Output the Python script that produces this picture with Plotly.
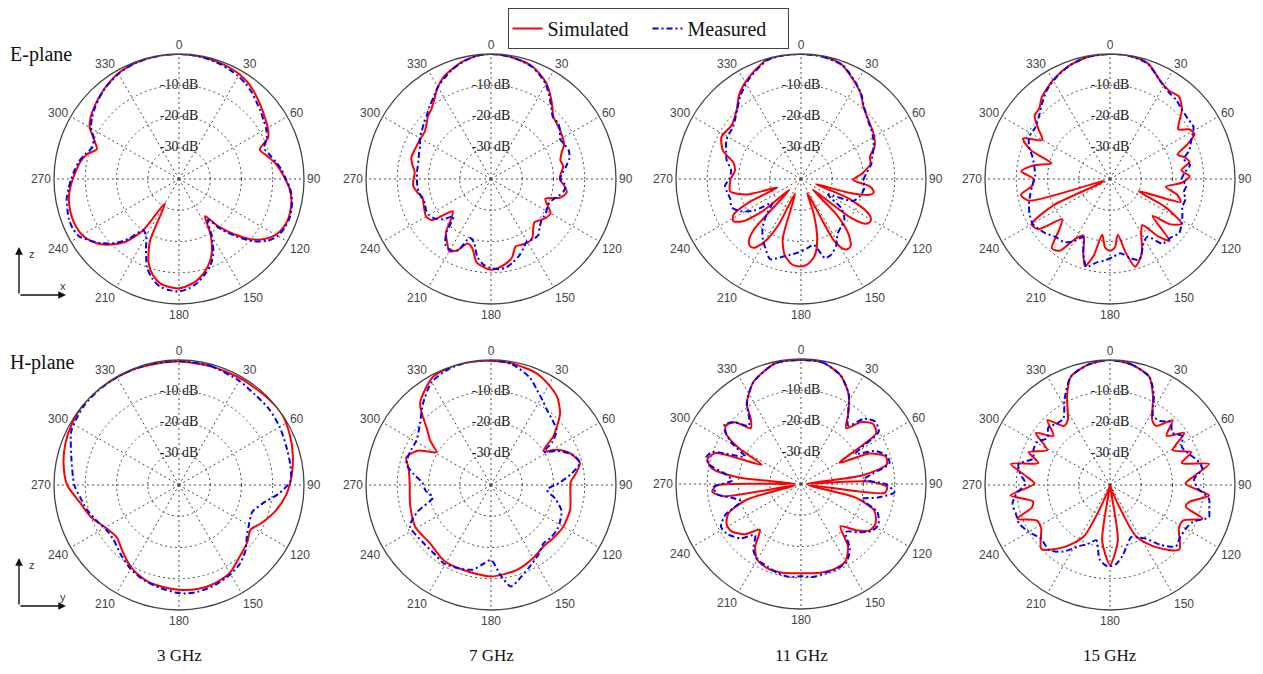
import plotly.graph_objects as go

# ---------------- data (angle in degrees, gain in dB) ----------------
ANG_TICKS = [0, 30, 60, 90, 120, 150, 180, 210, 240, 270, 300, 330]
ANG_LABELS = ["0", "30", "60", "90", "120", "150", "180", "210", "240", "270", "300", "330"]
DB_TICKS = [-10, -20, -30]
DB_LABELS = ["-10 dB", "-20 dB", "-30 dB"]
FREQS = ["3 GHz", "7 GHz", "11 GHz", "15 GHz"]
PLANES = ["E-plane", "H-plane"]

# E-plane 3 GHz (5 deg steps)
E3_theta = list(range(0, 360, 5)) + [360]
E3_sim = [0, -0.1, -0.2, -0.4, -0.6, -0.9, -1.3, -2, -3, -4.2, -5.3, -6.3, -7.2, -8.5, -12.5, -11, -9, -7.5,
          -6, -4.5, -3.5, -3, -2.8, -3.2, -4.2, -6.5, -10, -15, -20, -25.5, -20, -15, -11.5, -9, -7, -5.8,
          -5, -5.3, -6, -8, -11.5, -18, -31, -20, -14, -10.5, -7.5, -5.5, -4.2, -3.7, -3.6, -3.8, -4.2, -5,
          -6, -7, -8, -9.5, -12, -10, -7, -5.5, -4.5, -3.5, -2.6, -1.8, -1, -0.6, -0.3, -0.1, 0, 0, 0]
E3_meas = [0, -0.1, -0.3, -0.6, -1, -1.5, -2, -2.8, -3.8, -5, -6, -7, -7.8, -9, -11, -10, -8.5, -7,
           -5.8, -4.3, -3.3, -2.7, -2.5, -2.8, -3.5, -5.5, -9, -14, -19, -24, -19, -14, -10.5, -8.3, -6.2, -4.8,
           -4, -4.3, -5, -7, -10, -15, -19, -20, -15, -11, -8, -5.5, -3.2, -2.5, -2.5, -3, -3.5, -4.5,
           -5.5, -6.5, -7.5, -9, -10.5, -10, -7.5, -6, -4.8, -3.7, -2.7, -1.9, -1.2, -0.7, -0.4, -0.2, -0.1, 0, 0]

# E-plane 7 GHz (5 deg steps)
E7_theta = list(range(0, 360, 5)) + [360]
E7_sim = [0, -0.2, -0.5, -1, -1.6, -3, -4.6, -7, -9.5, -11.8, -12.5, -13, -13.5, -14.2, -16, -17, -16.5, -17.5,
          -18, -16.5, -15.4, -17, -21.5, -20, -18, -18.5, -19.5, -20.4, -19, -17, -16.5, -16.8, -17, -14, -12.5, -11.5,
          -11, -11.8, -13, -17, -18, -15, -13.3, -15.5, -17.5, -22, -24, -17, -16, -16.5, -17, -17.3, -16, -15,
          -15.2, -15.5, -14.5, -13.6, -13.8, -14, -14, -14, -13, -11.5, -10.5, -8.5, -6, -4, -2.8, -1.6, -0.8, -0.2, 0]
E7_meas = [0, -0.2, -0.5, -1, -1.8, -3.2, -5, -7.5, -10, -12, -12, -13, -14.5, -14, -13.5, -14, -15.5, -17,
           -17.8, -16, -16.5, -18, -19.5, -20, -19.5, -19.3, -19, -18, -16.5, -16.5, -17, -15.5, -13.8, -12.5, -11.3, -11,
           -11.5, -12.5, -14.7, -19, -20, -14.7, -13.8, -14.5, -18, -23, -20, -18, -17, -17, -17.5, -17, -16.5, -16.3,
           -16.3, -16.2, -16.2, -16, -15.5, -15, -13.7, -13, -12, -11, -9.5, -8, -6, -4.5, -3, -1.8, -0.8, -0.2, 0]

# E-plane 11 GHz
E11_sim_theta = [0, 9, 19, 28, 35, 41, 49, 58, 66, 72, 78, 85, 91, 96, 99, 101, 103, 106, 109, 112, 116, 119,
                 122, 125, 128, 132, 135, 139, 143, 146, 149, 152, 156, 160, 165, 170, 176, 181, 186, 192, 197,
                 202, 206, 210, 214, 217, 220, 223, 227, 230, 234, 238, 242, 246, 250, 254, 260, 270, 277, 284,
                 290, 298, 308, 317, 324, 333, 344, 352, 360]
E11_sim = [0, 0, -1, -4.2, -6.7, -9.5, -11.4, -12.6, -14.2, -16.8, -17.3, -20.5, -23.3, -18, -16.6, -16.4, -17.5,
           -24, -35, -24, -17, -14.5, -14, -15, -20, -35, -24, -17, -13.5, -13, -14, -18, -35, -28, -20, -15,
           -12.5, -12, -12.5, -15, -20, -35, -24, -17, -13.5, -13, -14, -18, -35, -24, -17, -14.5, -15.5, -22,
           -32, -22, -17, -17.5, -18.7, -17.6, -13.4, -11.2, -11.9, -9.8, -6.4, -3.4, -0.3, 0, 0]
E11_meas_theta = [0, 10, 20, 28, 35, 41, 49, 58, 66, 72, 78, 85, 91, 98, 106, 113, 120, 126, 133, 140, 146, 152,
                  158, 163, 169, 175, 182, 188, 195, 201, 207, 212, 218, 224, 230, 236, 242, 248, 254, 260, 265,
                  270, 277, 284, 290, 298, 308, 317, 324, 333, 344, 352, 360]
E11_meas = [0, -0.3, -1.2, -4, -6.5, -9.3, -11.5, -13, -14.5, -16, -17, -19, -20, -19.5, -20.3, -22, -30, -24,
            -21, -20, -19, -16, -14, -13.5, -18.5, -17.7, -16.5, -15.5, -14, -12.5, -15, -17, -20, -24, -28, -22,
            -18, -16, -16.5, -16, -15.6, -17, -17.5, -15.5, -14.5, -13, -12.5, -10, -7, -3.8, -0.5, 0, 0]

# E-plane 15 GHz
E15_sim_theta = [0, 8, 18, 28, 34, 40, 46, 50, 54, 58, 62, 66, 70, 74, 78, 83, 88, 93, 98, 103, 108, 113, 117,
                 122, 127, 131, 136, 140, 145, 150, 157, 164, 168, 172, 176, 180, 184, 188, 192, 196, 200, 205,
                 210, 215, 220, 225, 230, 235, 240, 245, 250, 255, 260, 265, 270, 275, 280, 285, 290, 295, 300,
                 305, 310, 315, 320, 330, 340, 350, 360]
E15_sim = [0, 0, -1, -5, -6, -5.6, -8, -11, -13, -10, -9.4, -13, -17, -15, -14, -17, -14.5, -17, -22, -18, -16.2,
           -30, -20, -12.9, -16, -22, -12.5, -16, -22, -20, -14, -10.8, -16, -22, -18, -17, -18, -22, -15, -10.9,
           -15, -20, -18, -12, -11, -17, -20, -12, -11, -20, -38, -13.2, -11, -15, -15.5, -11.5, -15, -20.6, -13,
           -9.3, -15, -12, -8.5, -8, -6, -3.5, -1.5, -0.3, 0]
E15_meas_theta = [0, 8, 18, 28, 34, 40, 46, 52, 58, 64, 70, 75, 80, 85, 90, 95, 100, 105, 111, 117, 122, 128,
                  134, 141, 147, 152, 160, 166, 172, 178, 183, 189, 195, 200, 205, 210, 216, 223, 230, 236, 240,
                  247, 253, 259, 265, 272, 279, 286, 292, 298, 304, 311, 318, 325, 333, 342, 350, 360]
E15_meas = [0, 0, -1.2, -5, -6.5, -7, -8, -8.5, -8.5, -11, -13, -15.5, -14, -16, -17, -15.5, -16, -15, -15.2,
            -14, -13, -11.9, -13, -13.4, -18, -17, -12.5, -14, -16, -15, -14, -13, -10.9, -15, -19.5, -17, -15,
            -14.6, -13, -12, -11.4, -12, -12.9, -14, -15, -16, -15.5, -14.2, -12, -10.8, -11, -9.8, -7.5, -5, -3,
            -1.2, -0.3, 0]

# H-plane 3 GHz
H3_sim_theta = [0, 15, 30, 45, 55, 65, 75, 85, 95, 105, 115, 122, 130, 140, 150, 160, 170, 180, 190, 200, 210,
                220, 230, 240, 250, 260, 270, 280, 290, 300, 310, 320, 330, 340, 350, 360]
H3_sim = [-0.5, -0.7, -0.6, -0.3, 0, -1, -2.3, -3.8, -5.5, -8, -11, -13, -11.5, -9.9, -7.5, -6.5, -6.2, -6.5, -7,
          -7.8, -9.5, -12, -14, -12.8, -10, -7.8, -4.2, -2.5, -1.3, -0.5, 0, 0, -0.2, -0.3, -0.5, -0.5]
H3_meas_theta = [0, 15, 30, 40, 50, 60, 70, 80, 88, 95, 102, 110, 118, 127, 135, 142, 150, 160, 170, 176, 182,
                 190, 200, 210, 220, 230, 238, 245, 255, 263, 270, 283, 297, 310, 320, 330, 340, 350, 360]
H3_meas = [-0.3, -0.6, -1.5, -2.2, -2.3, -2.8, -3.5, -3.8, -4.3, -8, -12.4, -15, -14.5, -12.8, -10, -8.2, -7, -6,
           -5.3, -5.2, -5.6, -6.5, -7.5, -9, -11, -12.7, -12.7, -11.5, -9.5, -8.1, -6.5, -4.7, -1.4, -0.4, -0.2,
           -0.2, -0.2, -0.3, -0.3]

# H-plane 7 GHz
H7_sim_theta = [0, 10, 22, 30, 37, 44, 52, 57, 62, 68, 76, 82, 88, 95, 107, 120, 130, 140, 150, 163, 180, 198,
                212, 226, 241, 257, 270, 282, 288, 295, 301, 306, 311, 319, 332, 344, 352, 360]
H7_sim = [-0.3, -0.5, -1.4, -3, -4.8, -8.2, -14.7, -20, -16, -12.8, -10.7, -12.5, -14.5, -14.5, -13.5, -13.3,
          -13.8, -14.1, -13, -11.6, -10.7, -11.4, -11.5, -13, -12.3, -13.4, -14, -13, -11.5, -14, -19.6, -16,
          -12.9, -5.4, -0.7, 0, -0.1, -0.3]
H7_meas_theta = [0, 10, 20, 26, 32, 37, 44, 50, 55, 58, 63, 70, 76, 82, 88, 95, 102, 110, 118, 124, 131, 138,
                 146, 155, 162, 169, 174, 180, 186, 192, 200, 211, 220, 230, 243, 250, 258, 265, 272, 278, 284,
                 292, 301, 311, 320, 330, 340, 350, 360]
H7_meas = [0, -0.8, -3.5, -6.3, -8.5, -10.1, -11.5, -12.6, -16, -20, -16, -12, -10.7, -14, -18, -22, -19, -16,
           -15, -14.5, -14.5, -14.9, -13, -11, -9, -6.9, -11, -16, -14.5, -12.3, -11.5, -10.7, -11.5, -11.5,
           -10.9, -15, -21, -19, -18, -15, -12.1, -12, -12.2, -9.9, -6.1, -2, -0.5, 0, 0]

# H-plane 11 GHz
H11_sim_theta = [0, 10, 20, 28, 34, 39, 44, 50, 56, 61, 66, 72, 77, 82, 86, 88, 92, 96, 99, 104, 110, 118, 124,
                 130, 137, 143, 150, 158, 168, 180, 192, 202, 210, 216, 222, 228, 236, 242, 248, 254, 258, 261,
                 265, 269, 272, 276, 280, 285, 290, 296, 300, 304, 308, 313, 318, 322, 326, 335, 348, 360]
H11_sim = [-0.3, -0.5, -3, -7.5, -13, -17, -12.5, -10, -11, -26, -16, -11.5, -11.8, -20, -38, -18, -12.5, -13,
           -38, -22, -15, -13, -13.5, -17, -21.5, -15, -11.5, -10.8, -11, -11.4, -11, -11, -12, -15, -20.3, -16,
           -13, -13, -15, -22, -38, -15, -11.5, -13, -38, -20, -11, -9, -11, -26, -17, -11, -9.5, -11, -16, -14,
           -9, -4, -0.5, -0.3]
H11_meas_theta = [0, 10, 20, 28, 34, 39, 44, 50, 56, 61, 66, 72, 77, 82, 86, 90, 95, 100, 104, 110, 118, 124,
                  130, 137, 143, 150, 158, 165, 172, 180, 187, 195, 202, 210, 216, 222, 228, 236, 242, 248, 254,
                  258, 263, 268, 273, 277, 282, 286, 290, 296, 300, 304, 308, 313, 318, 322, 326, 335, 348, 360]
H11_meas = [-0.3, -0.5, -3, -7.5, -13, -16, -11, -9, -10, -20, -14, -11, -11, -17, -20, -13, -10, -15, -20, -14,
            -12, -13, -16, -19, -14, -11, -10.5, -10.5, -10, -10.5, -10, -10.5, -11.5, -12, -14, -18, -14, -11.5,
            -11, -14, -20, -18, -13, -12, -18, -16, -10, -8.5, -10, -20, -15, -11, -9, -11, -15, -13, -9, -4,
            -0.5, -0.3]

# H-plane 15 GHz
H15_sim_theta = [0, 10, 20, 26, 33, 38, 44, 49, 55, 61, 68, 73, 78, 84, 89, 96, 102, 106, 110, 116, 122, 133,
                 143, 153, 162, 166, 172, 180, 188, 194, 198, 207, 217, 227, 238, 244, 250, 254, 258, 264, 271,
                 276, 282, 287, 292, 299, 305, 311, 316, 322, 327, 334, 340, 350, 360]
H15_sim = [0, -0.8, -3.2, -8.6, -15.2, -16, -11.2, -16, -11, -17, -12, -16, -7.6, -13, -15.8, -8.1, -14, -14.8,
           -8.5, -14, -14, -9.7, -15, -21.5, -38, -40, -22, -14.4, -22, -40, -38, -21.5, -15, -10, -14, -14, -8.5,
           -14, -14.8, -8, -15.8, -13, -7.6, -16, -12, -17, -11, -16, -11.2, -16, -15.2, -8.6, -3.2, -0.8, 0]
H15_meas_theta = [0, 10, 20, 26, 32, 38, 44, 50, 56, 62, 68, 74, 80, 86, 92, 98, 104, 108, 114, 120, 127, 133,
                  140, 146, 152, 158, 164, 170, 176, 182, 188, 194, 200, 207, 215, 223, 232, 240, 247, 253, 259,
                  265, 271, 277, 283, 289, 295, 301, 307, 313, 319, 325, 332, 340, 350, 360]
H15_meas = [0, -0.8, -3.2, -8, -14, -14, -12, -14, -12, -14, -13, -11, -10, -13, -12, -8, -7.3, -6.7, -11, -12,
            -12, -11.2, -15, -19.3, -21, -22, -20, -17, -14.5, -14, -16, -21.8, -20, -18, -14, -11.5, -12, -10,
            -8.4, -8.5, -8.2, -10, -13, -11, -10, -14, -13, -13, -15, -13, -14, -14, -9, -3.2, -0.8, 0]

PANELS = [
    (E3_theta, E3_sim, E3_theta, E3_meas),
    (E7_theta, E7_sim, E7_theta, E7_meas),
    (E11_sim_theta, E11_sim, E11_meas_theta, E11_meas),
    (E15_sim_theta, E15_sim, E15_meas_theta, E15_meas),
    (H3_sim_theta, H3_sim, H3_meas_theta, H3_meas),
    (H7_sim_theta, H7_sim, H7_meas_theta, H7_meas),
    (H11_sim_theta, H11_sim, H11_meas_theta, H11_meas),
    (H15_sim_theta, H15_sim, H15_meas_theta, H15_meas),
]

# ---------------- layout geometry (page pixels) ----------------
PAGE_W, PAGE_H = 1263, 674
OFF = 8                      # default body margin of the html page
W, H = PAGE_W - 2 * OFF, PAGE_H - 2 * OFF
R = 125
CENTERS = [(179, 179), (491, 179), (801, 179), (1110, 179),
           (179, 485), (491, 485), (801, 484), (1110, 485)]


def px(x):
    return (x - OFF) / W


def py(y):
    return 1 - (y - OFF) / H


SERIF = "Liberation Serif"
SANS = "Liberation Sans"
GRID = "#4a4a4a"

fig = go.Figure()

for i, (ts, vs, tm, vm) in enumerate(PANELS):
    sp = "polar" if i == 0 else f"polar{i+1}"
    fig.add_trace(go.Scatterpolar(
        theta=ts, r=vs, mode="lines", subplot=sp, name="Simulated",
        legendgroup="sim", showlegend=(i == 0),
        line=dict(color="#ff0000", width=2, shape="spline", smoothing=0.7),
        hoverinfo="skip"))
    fig.add_trace(go.Scatterpolar(
        theta=tm, r=vm, mode="lines", subplot=sp, name="Measured",
        legendgroup="meas", showlegend=(i == 0),
        line=dict(color="#0000ff", width=2, dash="6px,3px,2px,3px", shape="spline", smoothing=0.7),
        hoverinfo="skip"))
    fig.add_trace(go.Scatterpolar(
        theta=[0] * len(DB_TICKS), r=DB_TICKS, mode="text", text=DB_LABELS, subplot=sp,
        textposition="middle center", showlegend=False, hoverinfo="skip",
        textfont=dict(family=SERIF, size=14, color="#222222")))

    cx, cy = CENTERS[i]
    polar = dict(
        domain=dict(x=[px(cx - R), px(cx + R)], y=[py(cy + R), py(cy - R)]),
        bgcolor="white",
        angularaxis=dict(rotation=90, direction="clockwise", tickmode="array",
                         tickvals=ANG_TICKS, ticktext=ANG_LABELS, ticks="",
                         showline=True, linecolor="#444444", linewidth=1.3,
                         gridcolor=GRID, griddash="2px,3px", gridwidth=1,
                         tickfont=dict(family=SANS, size=12, color="#444444")),
        radialaxis=dict(range=[-40, 0], tickmode="array", tickvals=DB_TICKS,
                        showticklabels=False, ticks="", showline=False,
                        gridcolor=GRID, griddash="2px,3px", gridwidth=1),
    )
    fig.update_layout(**{sp: polar})

annotations = []
# row labels
for lab, yy in [(PLANES[0], 55), (PLANES[1], 362)]:
    annotations.append(dict(text=lab, x=px(8), y=py(yy), xref="paper", yref="paper",
                            xanchor="left", yanchor="middle", showarrow=False,
                            font=dict(family=SERIF, size=20, color="#111111")))
# frequency labels
for k, f in enumerate(FREQS):
    cx = CENTERS[k][0]
    annotations.append(dict(text=f, x=px(cx), y=py(655), xref="paper", yref="paper",
                            xanchor="center", yanchor="middle", showarrow=False,
                            font=dict(family=SERIF, size=17, color="#111111")))
# coordinate icons
for (y0, top, lab) in [(295, 247, "x"), (606, 558, "y")]:
    annotations.append(dict(x=px(19), y=py(top), xref="paper", yref="paper", ax=0, ay=y0 - top,
                            axref="pixel", ayref="pixel", text="", showarrow=True, arrowhead=2,
                            arrowsize=1.1, arrowwidth=1.4, arrowcolor="#111111"))
    annotations.append(dict(x=px(66), y=py(y0), xref="paper", yref="paper", ax=-47, ay=0,
                            text="", showarrow=True, arrowhead=2, arrowsize=1.1, arrowwidth=1.4,
                            arrowcolor="#111111"))
    annotations.append(dict(text="z", x=px(27), y=py(top + 7), xref="paper", yref="paper",
                            xanchor="left", yanchor="middle", showarrow=False,
                            font=dict(family=SANS, size=11, color="#333333")))
    annotations.append(dict(text=lab, x=px(58), y=py(y0 - 9), xref="paper", yref="paper",
                            xanchor="left", yanchor="middle", showarrow=False,
                            font=dict(family=SANS, size=11, color="#333333")))

fig.update_layout(
    width=W, height=H, margin=dict(l=0, r=0, t=0, b=0),
    paper_bgcolor="white", plot_bgcolor="white",
    annotations=annotations,
    legend=dict(orientation="h", x=px(648), xanchor="center", y=py(8), yanchor="top",
                bordercolor="#444444", borderwidth=1, bgcolor="white",
                font=dict(family=SERIF, size=20, color="#111111"),
                entrywidth=95, entrywidthmode="pixels",
                itemwidth=30, tracegroupgap=0),
    showlegend=True,
)

fig.write_html("out.html", config={"displayModeBar": False})
